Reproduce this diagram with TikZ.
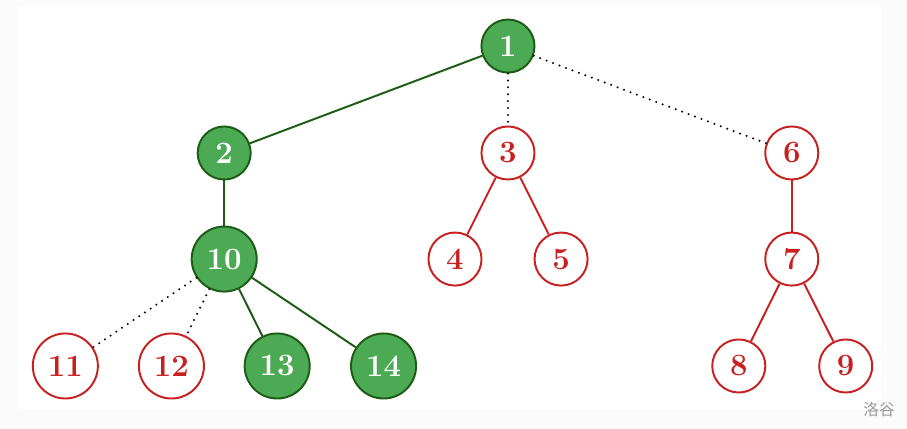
\documentclass[tikz,border=0pt]{standalone}
\usepackage{fontspec}
\newfontfamily\cjk{Noto Sans CJK SC}
\usepackage{xcolor}
\definecolor{lgreen}{RGB}{76, 170, 84}
\definecolor{dgreen}{RGB}{28, 92, 22}
\definecolor{lred}{RGB}{200, 32, 32}
\definecolor{bggray}{RGB}{251, 251, 251}
\tikzset{
greennode/.style={circle,draw=dgreen,fill=lgreen,text=white,line width=1.3pt,minimum size=35.4pt,inner sep=0pt,font=\huge\bfseries},
rednode/.style={circle,draw=lred,fill=white,text=lred,line width=1.3pt,minimum size=35.4pt,inner sep=0pt,font=\huge\bfseries},
wide/.style={minimum size=43.4pt},
greenedge/.style={dgreen,line width=1.3pt},
rededge/.style={lred,line width=1.3pt},
dotedge/.style={black,line width=1.5pt,line cap=round,dash pattern=on 0pt off 4.6pt},
}

\begin{document}
\begin{tikzpicture}[x=2.5cm,y=2.5cm]
\useasboundingbox (0,0) rectangle (8.508,-4.024);
\fill[bggray] (0,0) rectangle (8.508,-4.024);
\fill[white] (0.178,-0.056) rectangle (8.262,-3.837);
\node[greennode] (n1) at (4.765,-0.432) {1};
\node[greennode] (n2) at (2.103,-1.435) {2};
\node[rednode] (n3) at (4.765,-1.435) {3};
\node[rednode] (n6) at (7.427,-1.435) {6};
\node[greennode,wide] (n10) at (2.103,-2.430) {10};
\node[rednode] (n4) at (4.268,-2.430) {4};
\node[rednode] (n5) at (5.263,-2.430) {5};
\node[rednode] (n7) at (7.427,-2.430) {7};
\node[rednode,wide] (n11) at (0.613,-3.433) {11};
\node[rednode,wide] (n12) at (1.608,-3.433) {12};
\node[greennode,wide] (n13) at (2.600,-3.433) {13};
\node[greennode,wide] (n14) at (3.598,-3.433) {14};
\node[rednode] (n8) at (6.930,-3.433) {8};
\node[rednode] (n9) at (7.933,-3.433) {9};
\node[text=gray!80,font=\cjk\fontsize{10.5}{12}\selectfont] (mark) at (8.246,-3.837) {洛谷};
\draw[greenedge] (n1) -- (n2);
\draw[greenedge] (n2) -- (n10);
\draw[greenedge] (n10) -- (n13);
\draw[greenedge] (n10) -- (n14);
\draw[dotedge] (n1) -- (n3);
\draw[dotedge] (n1) -- (n6);
\draw[dotedge] (n10) -- (n11);
\draw[dotedge] (n10) -- (n12);
\draw[rededge] (n3) -- (n4);
\draw[rededge] (n3) -- (n5);
\draw[rededge] (n6) -- (n7);
\draw[rededge] (n7) -- (n8);
\draw[rededge] (n7) -- (n9);
\end{tikzpicture}
\end{document}
